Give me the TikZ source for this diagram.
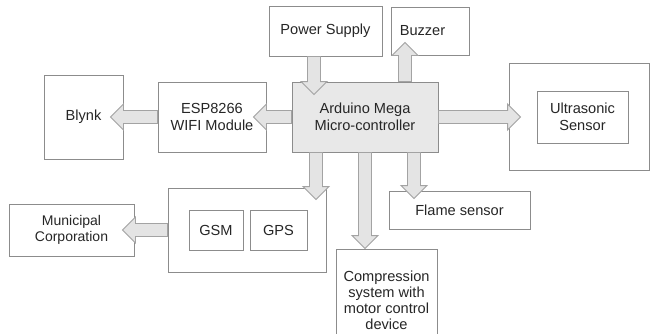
\documentclass[tikz,border=0pt]{standalone}
\usepackage{fontspec}
\setmainfont{Liberation Sans}
\usetikzlibrary{calc}
\definecolor{boxline}{HTML}{8C8C8C}
\definecolor{arrline}{HTML}{A3A3A3}
\definecolor{arrfill}{HTML}{E4E4E4}
\definecolor{mcufill}{HTML}{E8E8E8}
\tikzset{
  box/.style={draw=boxline, line width=0.9pt, inner sep=0pt, align=center,
    font=\fontsize{14.6}{16.8}\selectfont, text=black!85},
  blockarr/.style={draw=arrline, line width=0.9pt, fill=arrfill, line join=miter}
}
\newcommand\barrow[2]{%
  \path #1 coordinate (ba) #2 coordinate (bb);
  \coordinate (bh) at ($(bb)!13pt!(ba)$);
  \draw[blockarr] ($(ba)!6.5pt!90:(bb)$) -- ($(bh)!6.5pt!90:(bb)$) -- ($(bh)!13pt!90:(bb)$)
    -- (bb) -- ($(bh)!13pt!-90:(bb)$) -- ($(bh)!6.5pt!-90:(bb)$) -- ($(ba)!6.5pt!-90:(bb)$) -- cycle;
}
\begin{document}
\begin{tikzpicture}[x=1pt,y=-1pt]
\useasboundingbox[fill=white] (0,0) rectangle (652,333);
\clip (0,0) rectangle (652,333);
% boxes
\node[box, minimum width=79, minimum height=84] (blynk) at (83.5,117) {Blynk};
\node[box, minimum width=108, minimum height=70] (esp) at (212,117) {ESP8266\\WIFI Module};
\node[box, minimum width=113, minimum height=50] (ps) at (325.5,31) {Power Supply};
\node[box, minimum width=78, minimum height=48] (bz) at (430,31) {Buzzer\hspace{15pt}};
\node[box, fill=mcufill, minimum width=146, minimum height=70] (mcu) at (365,117) {Arduino Mega\\Micro-controller};
\node[box, minimum width=140, minimum height=107] (usout) at (579,116.5) {};
\node[box, minimum width=91, minimum height=52] (us) at (582.5,117) {Ultrasonic\hspace{8pt}\\Sensor\hspace{9pt}};
\node[box, minimum width=158, minimum height=84] (gg) at (247,230) {};
\node[box, minimum width=54, minimum height=40] (gsm) at (216,230) {GSM};
\node[box, minimum width=57, minimum height=40] (gps) at (278.5,230) {GPS};
\node[box, minimum width=125, minimum height=52, font=\fontsize{14}{16.2}\selectfont] (mun) at (71.5,230) {Municipal\\Corporation};
\node[box, minimum width=141, minimum height=38] (fl) at (459.5,210) {Flame sensor};
\node[box, minimum width=101, minimum height=103, font=\fontsize{14.6}{16}\selectfont] (cp) at (386.5,300.5) {Compression\\system with\\motor control\\device};
% block arrows
\barrow{($(ps.south)+(-11.5,0)$)}{($(mcu.north)+(-51,13)$)}
\barrow{($(mcu.north)+(40,0)$)}{($(bz.south)+(-25,-13)$)}
\barrow{(mcu.west)}{($(esp.east)+(-13,0)$)}
\barrow{(esp.west)}{($(blynk.east)+(-13,0)$)}
\barrow{(mcu.east)}{($(usout.west)+(12,0.5)$)}
\barrow{($(mcu.south)+(-49,0)$)}{($(gg.north)+(69,12)$)}
\barrow{(mcu.south)}{($(cp.north)+(-21.5,0)$)}
\barrow{($(mcu.south)+(49,0)$)}{($(fl.north)+(-45.5,8)$)}
\barrow{(gg.west)}{($(mun.east)+(-12,0)$)}
\end{tikzpicture}
\end{document}
